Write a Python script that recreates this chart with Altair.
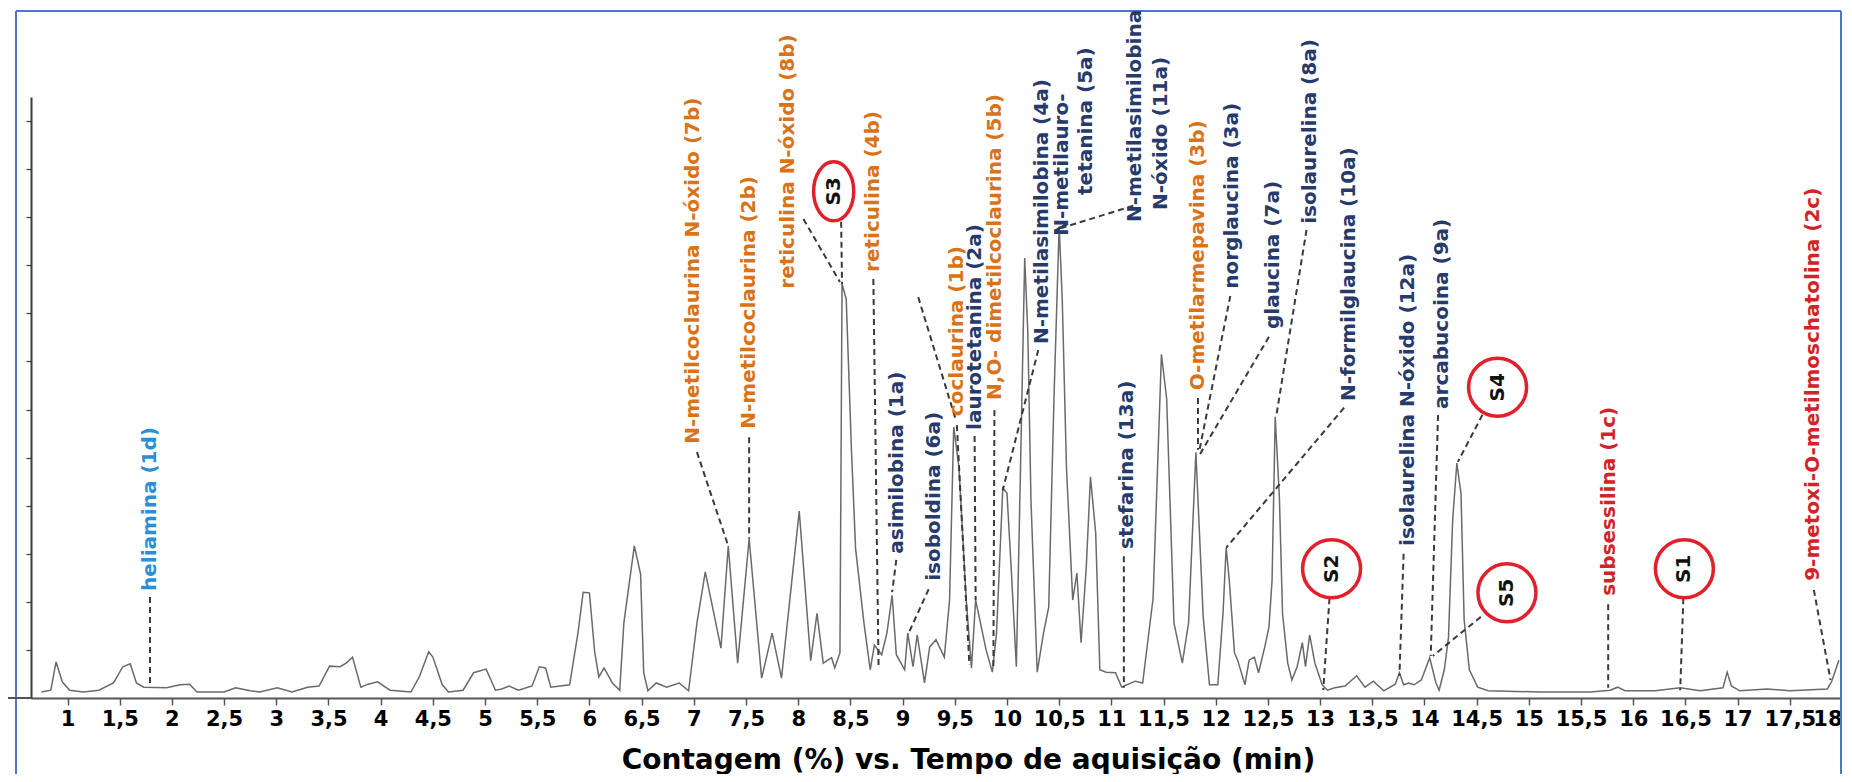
import altair as alt
import pandas as pd

# ---------------- chromatogram trace (time in min, count in %) ----------------
time_min = [0.75, 0.84, 0.89, 0.95, 1.02, 1.15, 1.30, 1.44, 1.53, 1.60, 1.66, 1.73, 1.95, 2.08, 2.17, 2.24,
            2.50, 2.61, 2.75, 2.84, 3.01, 3.15, 3.30, 3.41, 3.51, 3.61, 3.67, 3.73, 3.81, 3.88, 3.97, 4.09,
            4.29, 4.37, 4.46, 4.50, 4.59, 4.65, 4.79, 4.89, 5.01, 5.10, 5.16, 5.23, 5.32, 5.45, 5.52, 5.58,
            5.63, 5.81, 5.89, 5.94, 6.00, 6.05, 6.09, 6.14, 6.22, 6.29, 6.33, 6.43, 6.49, 6.52, 6.56, 6.64,
            6.74, 6.86, 6.95, 7.03, 7.11, 7.26, 7.33, 7.42, 7.53, 7.65, 7.75, 7.84, 8.01, 8.12, 8.18, 8.24,
            8.32, 8.35, 8.40, 8.42, 8.46, 8.51, 8.55, 8.63, 8.69, 8.73, 8.80, 8.85, 8.90, 8.94, 9.02, 9.05,
            9.10, 9.14, 9.21, 9.26, 9.32, 9.40, 9.45, 9.49, 9.54, 9.61, 9.66, 9.70, 9.74, 9.80, 9.86, 9.90,
            9.96, 10.00, 10.04, 10.09, 10.13, 10.17, 10.20, 10.23, 10.29, 10.35, 10.40, 10.45, 10.50, 10.53,
            10.57, 10.63, 10.67, 10.71, 10.76, 10.80, 10.85, 10.89, 10.95, 11.04, 11.10, 11.12, 11.23, 11.30,
            11.40, 11.48, 11.53, 11.60, 11.68, 11.74, 11.81, 11.88, 11.94, 12.02, 12.07, 12.10, 12.13, 12.18,
            12.21, 12.28, 12.32, 12.37, 12.41, 12.47, 12.51, 12.54, 12.57, 12.61, 12.64, 12.69, 12.73, 12.78,
            12.83, 12.86, 12.90, 12.95, 13.02, 13.07, 13.14, 13.24, 13.35, 13.43, 13.51, 13.61, 13.72, 13.76,
            13.80, 13.85, 13.90, 13.97, 14.05, 14.11, 14.14, 14.19, 14.23, 14.27, 14.31, 14.35, 14.38, 14.43,
            14.51, 14.61, 15.11, 15.59, 15.78, 15.85, 15.92, 16.21, 16.45, 16.64, 16.86, 16.90, 16.94, 17.02,
            17.28, 17.50, 17.86, 17.90, 17.97]
count_pct = [1.0, 1.3, 6.0, 2.7, 1.3, 1.0, 1.3, 2.5, 5.2, 5.7, 2.5, 1.8, 1.7, 2.2, 2.3, 1.0,
             1.0, 1.7, 1.2, 1.0, 1.7, 1.0, 1.8, 2.0, 5.3, 5.2, 5.8, 6.8, 1.8, 2.3, 2.7, 1.3,
             1.0, 3.5, 7.7, 6.8, 2.2, 1.0, 1.3, 4.2, 4.8, 1.3, 1.5, 2.0, 1.3, 2.0, 5.2, 5.0,
             1.8, 2.2, 10.8, 17.6, 17.5, 7.7, 3.5, 5.0, 2.5, 1.3, 12.5, 25.3, 20.6, 4.2, 1.2, 2.5,
             1.8, 2.5, 1.2, 12.5, 21.0, 8.3, 25.3, 5.8, 26.5, 3.3, 10.8, 3.3, 31.1, 6.2, 14.1, 5.8,
             6.7, 5.0, 7.5, 68.9, 66.4, 41.4, 24.8, 12.5, 4.7, 8.8, 7.2, 10.8, 17.1, 7.2, 4.7, 10.8,
             5.2, 10.5, 2.5, 8.5, 9.7, 6.8, 16.3, 45.1, 38.4, 16.3, 5.0, 16.3, 13.0, 8.0, 4.3, 10.8,
             34.9, 34.1, 21.8, 5.2, 38.4, 73.2, 60.7, 32.9, 4.3, 10.8, 15.1, 49.6, 78.5, 66.2,
             38.4, 16.3, 20.8, 9.2, 21.8, 36.8, 27.5, 4.7, 4.3, 4.2, 1.8, 2.0, 2.8, 2.5,
             16.6, 57.2, 49.8, 12.5, 5.8, 12.5, 40.9, 13.5, 2.2, 2.2, 14.1, 25.0, 19.6, 7.5,
             6.3, 2.2, 6.3, 6.8, 4.2, 8.5, 11.8, 19.6, 46.8, 33.4, 14.1, 5.8, 3.0, 5.2,
             9.2, 5.2, 10.5, 5.8, 2.2, 1.3, 1.7, 2.0, 3.7, 1.8, 2.8, 1.2, 2.3, 4.2,
             2.2, 2.5, 2.2, 3.0, 6.7, 2.5, 1.3, 4.7, 10.1, 29.6, 39.1, 34.0, 13.0, 4.7,
             1.8, 1.2, 1.0, 1.0, 1.3, 1.8, 1.2, 1.2, 1.7, 1.2, 1.7, 4.3, 2.0, 1.2,
             1.5, 1.2, 1.5, 2.7, 6.3]

# ---------------- x tick values ----------------
x_ticks = [1 + 0.5 * i for i in range(35)]

# ---------------- compound labels ----------------
label_text = ["heliamina (1d)", "N-metilcoclaurina N-óxido (7b)", "N-metilcoclaurina (2b)",
              "reticulina N-óxido (8b)", "reticulina (4b)", "asimilobina (1a)", "isoboldina (6a)",
              "coclaurina (1b)", "laurotetanina (2a)", "N,O- dimetilcoclaurina (5b)",
              "N-metilasimilobina (4a)", "N-metilauro-", "tetanina (5a)", "N-metilasimilobina",
              "N-óxido (11a)", "stefarina (13a)", "O-metilarmepavina (3b)", "norglaucina (3a)",
              "glaucina (7a)", "isolaurelina (8a)", "N-formilglaucina (10a)",
              "isolaurelina N-óxido (12a)", "arcabucoina (9a)", "subsessilina (1c)",
              "9-metoxi-O-metilmoschatolina (2c)"]
label_group = ["d", "b", "b", "b", "b", "a", "a", "b", "a", "b", "a", "a", "a", "a", "a", "a",
               "b", "a", "a", "a", "a", "a", "a", "c", "c"]
label_t = [1.79, 6.99, 7.53, 7.90, 8.72, 8.95, 9.30, 9.52, 9.69, 9.89, 10.34, 10.53, 10.76, 11.23,
           11.48, 11.15, 11.83, 12.16, 12.55, 12.90, 13.28, 13.84, 14.17, 15.77, 17.72]
label_v = [17.8, 42.3, 44.8, 68.1, 70.9, 24.0, 19.5, 46.9, 44.6, 49.6, 58.9, 76.9, 83.7, 79.2,
           81.2, 24.8, 51.2, 68.1, 61.4, 78.9, 49.4, 25.3, 48.1, 17.0, 19.5]

# ---------------- dashed leader lines ----------------
lead_t1 = [1.79, 7.03, 7.53, 8.05, 8.41, 8.72, 8.94, 9.25, 9.15, 9.52, 9.69, 9.88, 10.30, 11.21,
           11.12, 11.83, 12.14, 12.51, 12.87, 13.23, 13.09, 13.80, 14.13, 14.60, 14.54, 15.76, 16.48, 17.73]
lead_v1 = [16.8, 40.9, 43.4, 79.7, 80.9, 69.7, 23.0, 18.1, 66.7, 45.4, 43.6, 47.9, 57.9, 81.9,
           23.6, 49.9, 66.9, 60.1, 77.9, 48.3, 16.6, 24.0, 47.1, 48.6, 13.5, 15.6, 16.6, 18.0]
lead_t2 = [1.79, 7.33, 7.53, 8.40, 8.42, 8.77, 8.90, 9.05, 9.51, 9.64, 9.70, 9.87, 9.96, 10.52,
           11.12, 11.83, 11.84, 11.85, 12.58, 12.10, 13.03, 13.76, 14.06, 14.32, 14.08, 15.76, 16.45, 17.89]
lead_v2 = [1.8, 25.3, 26.5, 69.2, 68.9, 5.0, 17.6, 10.5, 46.3, 5.5, 16.3, 5.0, 34.6, 78.2,
           1.7, 41.3, 40.9, 40.6, 46.9, 25.0, 1.3, 3.7, 7.0, 39.3, 7.0, 1.7, 1.3, 3.0]

# ---------------- circled standards ----------------
std_name = ["S3", "S2", "S4", "S5", "S1"]
std_t = [8.34, 13.11, 14.70, 14.79, 16.49]
std_v = [84.3, 21.5, 51.7, 17.5, 21.5]

W, H = 1811, 601

trace_df = pd.DataFrame({"t": time_min, "v": count_pct})
lab_df = pd.DataFrame({"text": label_text, "grp": label_group, "t": label_t, "v": label_v})
lead_df = pd.DataFrame({"t1": lead_t1, "v1": lead_v1, "t2": lead_t2, "v2": lead_v2})
std_df = pd.DataFrame({"name": std_name, "t": std_t, "v": std_v})
one = pd.DataFrame({"k": [0]})

xscale = alt.Scale(domain=[0.65, 18], nice=False, zero=False)
yscale = alt.Scale(domain=[0, 100], nice=False, zero=True)

xaxis = alt.Axis(values=x_ticks, labelExpr="replace(toString(datum.value), '.', ',')",
                 title="Contagem (%) vs. Tempo de aquisição (min)",
                 titleFont="DejaVu Sans", titleFontSize=28, titleFontWeight="bold", titleColor="#000000",
                 titleX=937, titleY=62, titleBaseline="middle", titleAlign="center",
                 labelFont="DejaVu Sans", labelFontSize=21, labelFontWeight="bold", labelColor="#000000",
                 labelFlush=True, labelPadding=3, labelOverlap=False,
                 tickSize=7, tickColor="#555555", tickWidth=1.5,
                 domainColor="#555555", domainWidth=2, grid=False)
yaxis = alt.Axis(values=list(range(0, 101, 4)), labels=False, title=None, tickSize=5,
                 tickColor="#3d3d30", tickWidth=1.2, domainColor="#3d3d30", domainWidth=2, grid=False)

trace = alt.Chart(trace_df).mark_line(color="#6a6a6a", strokeWidth=1.5).encode(
    x=alt.X("t:Q", scale=xscale, axis=xaxis),
    y=alt.Y("v:Q", scale=yscale, axis=yaxis),
)

leaders = alt.Chart(lead_df).mark_rule(strokeDash=[6, 4], strokeWidth=2, color="#3a3a3a").encode(
    x=alt.X("t1:Q", scale=xscale), y=alt.Y("v1:Q", scale=yscale),
    x2="t2:Q", y2="v2:Q",
)

labels = alt.Chart(lab_df).mark_text(angle=270, align="left", baseline="middle",
                                     font="DejaVu Sans", fontSize=20, fontWeight="bold").encode(
    x=alt.X("t:Q", scale=xscale), y=alt.Y("v:Q", scale=yscale), text="text:N",
    color=alt.Color("grp:N", scale=alt.Scale(domain=["a", "b", "c", "d"],
                                             range=["#263a6b", "#d9731a", "#d2232a", "#2b8fd6"]),
                    legend=None),
)

circ = alt.Chart(std_df).transform_filter("datum.name != 'S3'").mark_point(
    shape="circle", size=3364, filled=True, fill="#ffffff", fillOpacity=1,
    stroke="#e0202a", strokeWidth=3.5, strokeOpacity=1, opacity=1).encode(
    x=alt.X("t:Q", scale=xscale), y=alt.Y("v:Q", scale=yscale))

ell = alt.Chart(std_df).transform_filter("datum.name == 'S3'").mark_point(
    shape="M0,-1A0.68,1 0 1,1 0,1A0.68,1 0 1,1 0,-1Z", size=3481, filled=True, fill="#ffffff",
    fillOpacity=1, stroke="#e0202a", strokeWidth=3.5, strokeOpacity=1, opacity=1).encode(
    x=alt.X("t:Q", scale=xscale), y=alt.Y("v:Q", scale=yscale))

std_txt = alt.Chart(std_df).mark_text(angle=270, align="center", baseline="middle",
                                      font="DejaVu Sans", fontSize=20, fontWeight="bold",
                                      color="#111111").encode(
    x=alt.X("t:Q", scale=xscale), y=alt.Y("v:Q", scale=yscale), text="name:N")

# decorative frame and axis extension
frame_col = "#4f74c8"
f_top = alt.Chart(one).mark_rule(color=frame_col, strokeWidth=2).encode(
    x=alt.value(-15), x2=alt.value(W - 1), y=alt.value(-86))
f_left = alt.Chart(one).mark_rule(color=frame_col, strokeWidth=2).encode(
    x=alt.value(-15), y=alt.value(-86), y2=alt.value(H + 80))
f_right = alt.Chart(one).mark_rule(color=frame_col, strokeWidth=2).encode(
    x=alt.value(W - 1), y=alt.value(-86), y2=alt.value(H + 80))
ax_ext = alt.Chart(one).mark_rule(color="#555555", strokeWidth=2).encode(
    x=alt.value(-27), x2=alt.value(0), y=alt.value(H))

chart = alt.layer(f_top, f_left, f_right, ax_ext, trace, leaders, labels, circ, ell, std_txt).properties(
    width=W, height=H,
    padding={"left": 23, "top": 89, "right": 0, "bottom": 76},
    autosize=alt.AutoSizeParams(type="none"),
    background="#ffffff",
).configure_view(stroke=None)

chart.save("out.html", embed_options={"renderer": "svg", "actions": False})
